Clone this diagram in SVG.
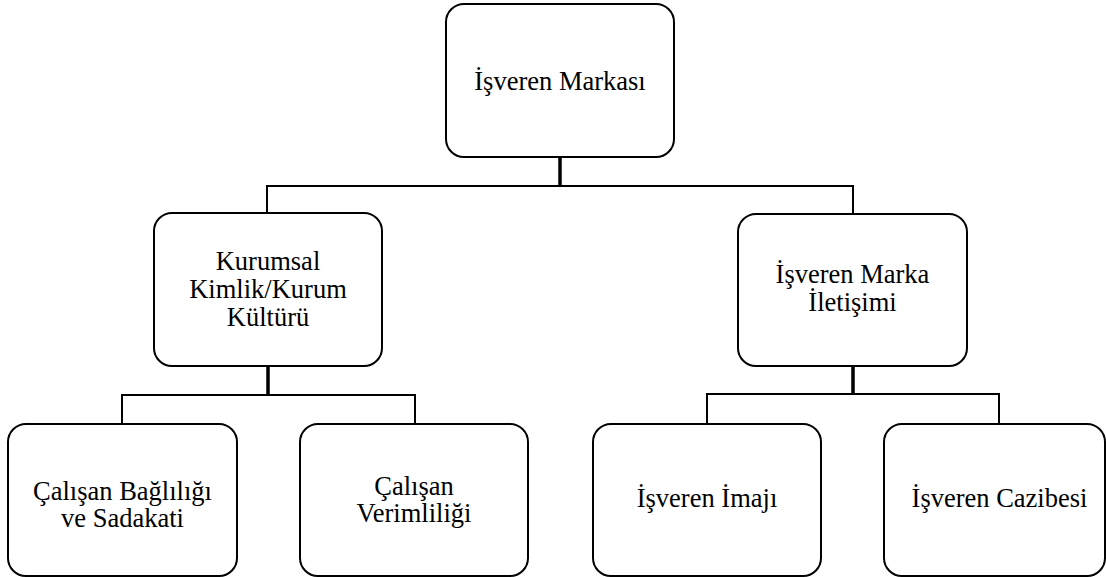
<svg xmlns="http://www.w3.org/2000/svg" width="1106" height="577" viewBox="0 0 1106 577">
<style>
.box{fill:#fff;stroke:#000;stroke-width:2}
.t{font-family:"Liberation Serif","Times New Roman",serif;font-size:26.5px;fill:#000;text-anchor:middle}
.c{fill:none;stroke:#000;stroke-width:2}
.s{fill:none;stroke:#000;stroke-width:3.5}
</style>
<rect width="1106" height="577" fill="#fff"/>
<g id="connectors">
<path class="s" d="M560,157V186"/>
<path class="c" d="M267,213V186H853V214"/>
<path class="s" d="M268,366V395"/>
<path class="c" d="M122,424V395H415V424"/>
<path class="s" d="M853,366V394"/>
<path class="c" d="M707,424V394H999V424"/>
</g>
<g id="n-isveren-markasi">
<rect class="box" x="446" y="4" width="228" height="153" rx="18"/>
<text class="t" x="560" y="90">İşveren Markası</text>
</g>
<g id="n-kurumsal">
<rect class="box" x="154" y="213" width="228" height="153" rx="18"/>
<text class="t" x="268" y="270">Kurumsal</text>
<text class="t" x="268" y="298">Kimlik/Kurum</text>
<text class="t" x="268" y="326">Kültürü</text>
</g>
<g id="n-iletisim">
<rect class="box" x="738" y="214" width="229" height="152" rx="18"/>
<text class="t" x="852.5" y="283">İşveren Marka</text>
<text class="t" x="852.5" y="311">İletişimi</text>
</g>
<g id="n-baglilik">
<rect class="box" x="8" y="424" width="229" height="152" rx="18"/>
<text class="t" x="122.5" y="500">Çalışan Bağlılığı</text>
<text class="t" x="122.5" y="527">ve Sadakati</text>
</g>
<g id="n-verimlilik">
<rect class="box" x="300" y="424" width="228" height="152" rx="18"/>
<text class="t" x="414" y="495">Çalışan</text>
<text class="t" x="414" y="522">Verimliliği</text>
</g>
<g id="n-imaj">
<rect class="box" x="593" y="424" width="228" height="152" rx="18"/>
<text class="t" x="707" y="507">İşveren İmajı</text>
</g>
<g id="n-cazibe">
<rect class="box" x="884" y="424" width="221" height="152" rx="18"/>
<text class="t" x="999.5" y="507">İşveren Cazibesi</text>
</g>
</svg>
